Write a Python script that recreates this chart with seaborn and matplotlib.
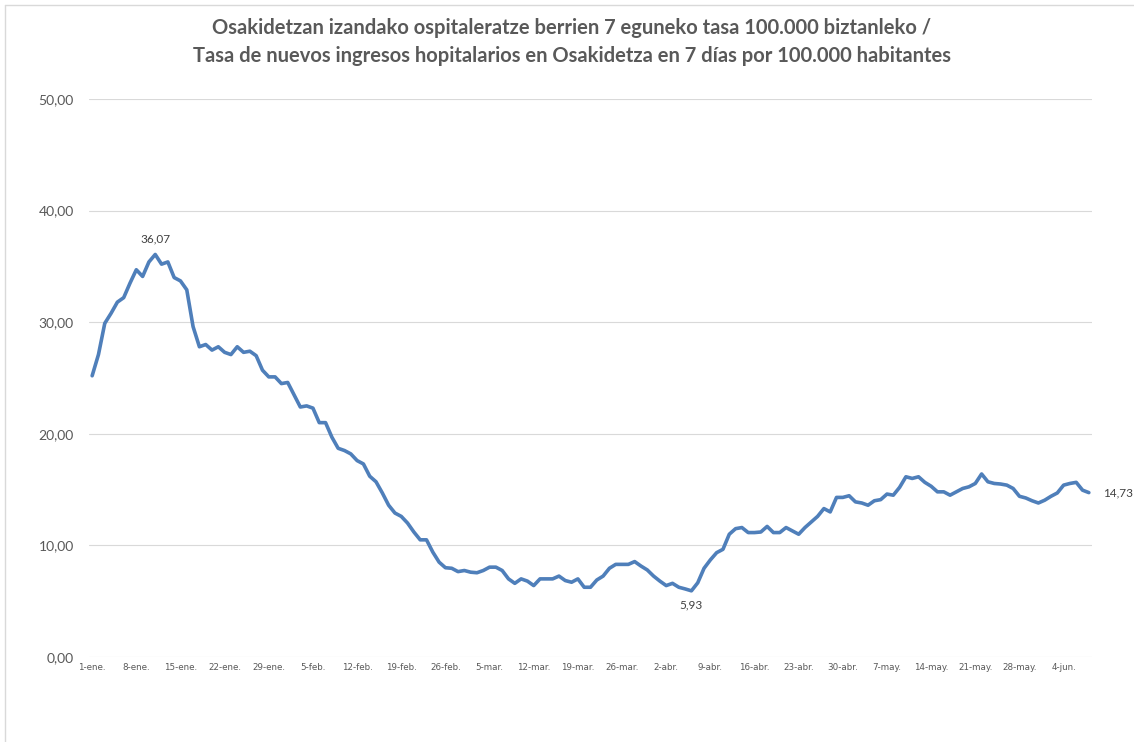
import matplotlib
matplotlib.use("Agg")
import matplotlib.pyplot as plt
import seaborn as sns
import pandas as pd
from matplotlib.lines import Line2D

# ---- data (daily values, 1-ene .. 8-jun) ----
rate = [
    25.2, 27.1, 29.9, 30.8, 31.8, 32.2, 33.5, 34.7, 34.1, 35.4,
    36.07, 35.2, 35.4, 34.0, 33.7, 32.9, 29.6, 27.8, 28.0, 27.5,
    27.8, 27.3, 27.1, 27.8, 27.3, 27.4, 27.0, 25.7, 25.1, 25.1,
    24.5, 24.6, 23.5, 22.4, 22.5, 22.3, 21.0, 21.0, 19.7, 18.7,
    18.5, 18.2, 17.6, 17.3, 16.2, 15.7, 14.7, 13.6, 12.9, 12.6,
    12.0, 11.2, 10.5, 10.5, 9.4, 8.5, 8.0, 7.95, 7.65, 7.75,
    7.6, 7.55, 7.75, 8.05, 8.05, 7.75, 7.0, 6.6, 7.0, 6.8,
    6.4, 7.0, 7.0, 7.0, 7.25, 6.85, 6.7, 7.0, 6.25, 6.25,
    6.9, 7.25, 7.95, 8.3, 8.3, 8.3, 8.55, 8.15, 7.8, 7.25,
    6.8, 6.4, 6.6, 6.25, 6.1, 5.93, 6.65, 7.95, 8.7, 9.35,
    9.65, 11.0, 11.5, 11.6, 11.15, 11.15, 11.2, 11.7, 11.15, 11.15,
    11.6, 11.3, 11.0, 11.6, 12.1, 12.6, 13.3, 13.0, 14.3, 14.3,
    14.45, 13.9, 13.8, 13.6, 14.0, 14.1, 14.6, 14.5, 15.2, 16.15,
    16.0, 16.15, 15.65, 15.3, 14.8, 14.8, 14.5, 14.8, 15.1, 15.25,
    15.55, 16.4, 15.7, 15.55, 15.5, 15.4, 15.1, 14.4, 14.25, 14.0,
    13.8, 14.05, 14.4, 14.7, 15.4, 15.55, 15.65, 14.95, 14.73,
]
tick_labels = [
    "1-ene.", "8-ene.", "15-ene.", "22-ene.", "29-ene.", "5-feb.", "12-feb.",
    "19-feb.", "26-feb.", "5-mar.", "12-mar.", "19-mar.", "26-mar.", "2-abr.",
    "9-abr.", "16-abr.", "23-abr.", "30-abr.", "7-may.", "14-may.", "21-may.",
    "28-may.", "4-jun.",
]
y_ticks = [0, 10, 20, 30, 40, 50]
labelled_points = {"max": 10, "min": 95, "last": len(rate) - 1}

title = ("Osakidetzan izandako ospitaleratze berrien 7 eguneko tasa 100.000 biztanleko /\n"
         "Tasa de nuevos ingresos hopitalarios en Osakidetza en 7 días por 100.000 habitantes")

df = pd.DataFrame({"day": range(len(rate)), "rate": rate})

sns.set_theme(style="white")
plt.rcParams["font.family"] = ["Lato", "DejaVu Sans"]

W, H = 1134, 742
fig = plt.figure(figsize=(W / 100, H / 100), dpi=100)
ax = fig.add_axes([89 / W, 1 - 657 / H, (1092 - 89) / W, (657 - 99) / H])

line_color = "#4F7FBA"
sns.lineplot(data=df, x="day", y="rate", ax=ax, color=line_color, linewidth=2.6,
             solid_joinstyle="round", solid_capstyle="round")

ax.set_xlim(-0.5, len(rate) - 0.5)
ax.set_ylim(0, 50)
ax.set_yticks(y_ticks)
ax.set_yticklabels([f"{v:.2f}".replace(".", ",") for v in y_ticks],
                   fontsize=10, color="#595959", family="Lato")
ax.set_xticks([7 * i for i in range(len(tick_labels))])
ax.set_xticklabels(tick_labels, fontsize=6.3, color="#595959", family="DejaVu Sans")
ax.tick_params(axis="both", length=0)
ax.tick_params(axis="y", pad=11)
ax.tick_params(axis="x", pad=4)
ax.yaxis.grid(True, color="#D9D9D9", linewidth=0.8)
ax.set_axisbelow(True)
for s in ax.spines.values():
    s.set_visible(False)
ax.set_xlabel("")
ax.set_ylabel("")

def fmt(v):
    return f"{v:.2f}".replace(".", ",")

i = labelled_points["max"]
ax.annotate(fmt(rate[i]), (i, rate[i]), xytext=(0, 7), textcoords="offset points",
            ha="center", va="bottom", fontsize=8.5, color="#404040")
i = labelled_points["min"]
ax.annotate(fmt(rate[i]), (i, rate[i]), xytext=(0, -6), textcoords="offset points",
            ha="center", va="top", fontsize=8.5, color="#404040")
i = labelled_points["last"]
ax.annotate(fmt(rate[i]), (i, rate[i]), xytext=(10, 0), textcoords="offset points",
            ha="left", va="center", fontsize=8.5, color="#404040")

fig.text(572 / W, 1 - 42 / H, title, ha="center", va="center", fontsize=14.5,
         fontweight="bold", color="#595959", linespacing=1.45, family="Lato")

# chart-area frame
fig.add_artist(Line2D([5 / W, 5 / W], [0, 1 - 5 / H], transform=fig.transFigure,
                      color="#D9D9D9", linewidth=1))
fig.add_artist(Line2D([5 / W, 1], [1 - 5 / H, 1 - 5 / H], transform=fig.transFigure,
                      color="#D9D9D9", linewidth=1))

fig.savefig("out.png", dpi=100, facecolor="white")
